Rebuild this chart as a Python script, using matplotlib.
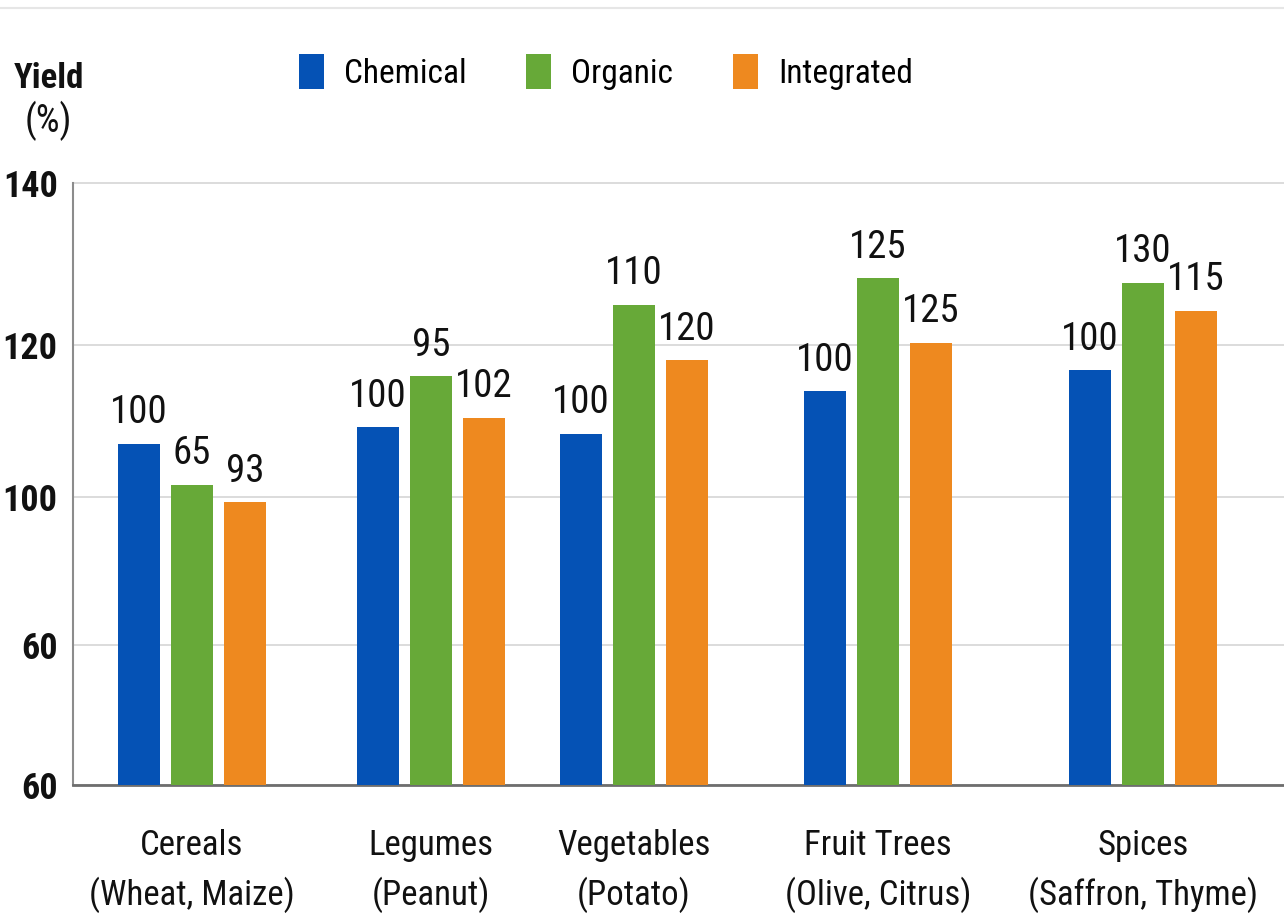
import numpy as np
import matplotlib
matplotlib.use("Agg")
import matplotlib.pyplot as plt
from matplotlib.patches import Patch
from matplotlib.lines import Line2D

plt.rcParams['font.family'] = ['Roboto Condensed', 'Liberation Sans Narrow',
                               'DejaVu Sans Condensed', 'Roboto', 'DejaVu Sans']
plt.rcParams['font.stretch'] = 'condensed'

# ---- data ----
categories = ['Cereals\n(Wheat, Maize)', 'Legumes\n(Peanut)', 'Vegetables\n(Potato)',
              'Fruit Trees\n(Olive, Citrus)', 'Spices\n(Saffron, Thyme)']
group_pos = [192, 431, 634, 878, 1143]   # group centres (x units = px of the original)

series = ['Chemical', 'Organic', 'Integrated']
colors = ['#0552b5', '#67a938', '#ee891f']

# bar heights as drawn
chemical = [107.0, 109.2, 108.3, 113.9, 116.7]
organic = [101.6, 115.9, 125.3, 128.8, 128.2]
integrated = [99.3, 110.4, 118.0, 120.3, 124.5]

# numbers printed above the bars
chemical_lbl = ['100', '100', '100', '100', '100']
organic_lbl = ['65', '95', '110', '125', '130']
integrated_lbl = ['93', '102', '120', '125', '115']

# y axis ticks (positions on the drawn scale, printed labels)
ytick_pos = [62.1, 80.5, 100, 120, 141.3]
ytick_lbl = ['60', '60', '100', '120', '140']

W, H = 1284, 915
fig = plt.figure(figsize=(W / 100, H / 100), dpi=100)
ax = fig.add_axes([73 / W, (H - 785) / H, (W - 73) / W, (785 - 160) / H])

values = [chemical, organic, integrated]
labels = [chemical_lbl, organic_lbl, integrated_lbl]
offsets = [-53, 0, 53]
x = np.array(group_pos)

for vals, lbls, off, c in zip(values, labels, offsets, colors):
    bars = ax.bar(x + off, vals, width=42, color=c, zorder=3, bottom=0)
    ax.bar_label(bars, labels=lbls, padding=9, fontsize=28, color='#111111', zorder=4)

ax.set_xlim(73, 1284)
ax.set_ylim(62.1, 100 + (497 - 160) / 7.6)

ax.set_yticks(ytick_pos)
ax.set_yticklabels(ytick_lbl, fontsize=26, fontweight='bold', color='#111111')
ax.set_xticks(group_pos)
ax.set_xticklabels(categories, fontsize=25, color='#111111', linespacing=1.5)
ax.tick_params(axis='x', length=0, pad=32)
ax.tick_params(axis='y', length=0, pad=11)

ax.grid(axis='y', color='#d9d9d9', linewidth=1.3, zorder=0)
for s in ['top', 'right']:
    ax.spines[s].set_visible(False)
ax.spines['left'].set_bounds(62.1, 141.3)
ax.spines['left'].set_color('#8c8c8c')
ax.spines['left'].set_linewidth(1.5)
ax.spines['bottom'].set_color('#6e6e6e')
ax.spines['bottom'].set_linewidth(2)

# y title
fig.text(49 / W, 1 - 78 / H, 'Yield', ha='center', va='center', fontsize=25,
         fontweight='bold', color='#111111')
fig.text(48 / W, 1 - 121 / H, '(%)', ha='center', va='center', fontsize=27,
         color='#111111')

# legend
handles = [Patch(facecolor=c, edgecolor='none') for c in colors]
fig.legend(handles, series, loc='center', bbox_to_anchor=(606 / W, 1 - 72 / H),
           ncol=3, frameon=False, fontsize=24, handlelength=0.75, handleheight=1.2,
           handletextpad=0.6, columnspacing=1.8)

# faint rule at the top
fig.add_artist(Line2D([0, 1], [1 - 8 / H, 1 - 8 / H], color='#e6e6e6', linewidth=1.5))

fig.savefig('out.png', dpi=100, facecolor='white')
